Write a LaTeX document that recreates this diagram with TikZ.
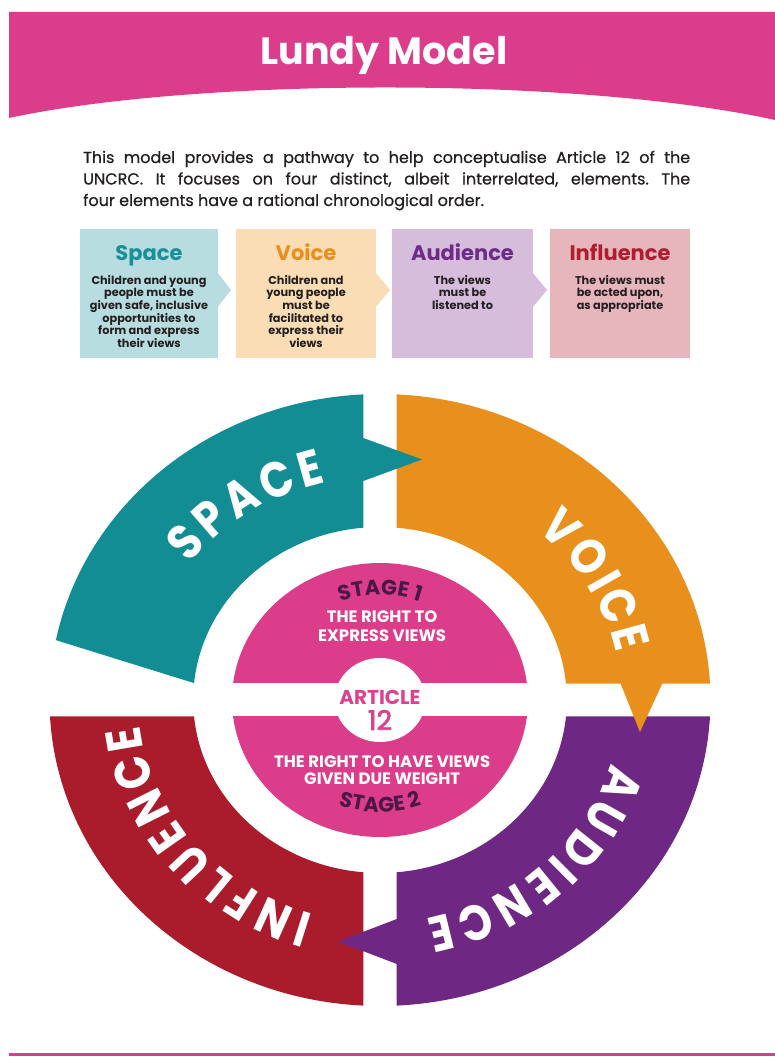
\documentclass[tikz,border=0pt]{standalone}
\usepackage{fontspec}
\setmainfont{Poppins}
\newfontface\titlefont{Poppins}[FakeBold=2.5]
\newfontface\introfont{Poppins}[FakeBold=0.6]
\usetikzlibrary{decorations.text}

\definecolor{hpink}{HTML}{DB3D8B}
\definecolor{cteal}{HTML}{138D94}
\definecolor{corange}{HTML}{E8901B}
\definecolor{cpurple}{HTML}{6E2883}
\definecolor{cred}{HTML}{AA1B2C}
\definecolor{plum}{HTML}{4A1747}
\definecolor{artpink}{HTML}{D9438E}
\definecolor{boxteal}{HTML}{B8DDE1}
\definecolor{boxorange}{HTML}{FADCB5}
\definecolor{boxpurple}{HTML}{D6BDDC}
\definecolor{boxred}{HTML}{E7B6BC}
\definecolor{tteal}{HTML}{1A8F97}
\definecolor{torange}{HTML}{E8901B}
\definecolor{tpurple}{HTML}{6F2B88}
\definecolor{tred}{HTML}{AE1D30}
\definecolor{inktext}{HTML}{231F20}

\newcommand\stagefont{\fontsize{21}{21}\selectfont\bfseries}

\tikzset{
  intro/.style={text=inktext, font=\introfont\fontsize{16}{19}\selectfont\frenchspacing,
    inner sep=0pt, anchor=base west},
  infobox/.style={minimum width=#1, minimum height=129pt, inner sep=0pt, draw=none},
  boxtitle/.style={font=\fontsize{21}{21}\selectfont\bfseries, inner sep=0pt, anchor=base},
  boxbody/.style={font=\fontsize{11.3}{12.6}\selectfont\bfseries, text=inktext, inner sep=0pt,
    align=center, anchor=north},
  ringletter/.style={text=white, font=\fontsize{50}{50}\selectfont\bfseries, inner sep=0pt, anchor=center},
  stagetext/.style={text=white, font=\fontsize{16.5}{16.5}\selectfont\bfseries, inner sep=0pt},
}

\begin{document}
\begin{tikzpicture}[x=1pt,y=1pt]
\useasboundingbox (0,0) rectangle (775,1057);
\fill[white] (0,0) rectangle (775,1057);

% header band with curved lower edge
\fill[hpink] (9,1045) -- (775,1045) -- (775,937)
  .. controls (580,980) and (200,980) .. (9,939) -- cycle;
\node[text=white, font=\fontsize{38}{38}\selectfont\bfseries, inner sep=0pt, anchor=base]
  (title) at (384,992) {Lundy Model};

% introduction
\node[intro] (intro1) at (83,894)
  {\makebox[607pt][s]{This model provides a pathway to help conceptualise Article 12 of the}};
\node[intro] (intro2) at (83,872.5)
  {\makebox[607pt][s]{UNCRC. It focuses on four distinct, albeit interrelated, elements. The}};
\node[intro] (intro3) at (83,851) {four elements have a rational chronological order.};

% four element boxes with pointers
\fill[boxteal] (217,785) -- (231,767) -- (217,749) -- cycle;
\fill[boxorange] (375,785) -- (390,767) -- (375,749) -- cycle;
\fill[boxpurple] (532,785) -- (547,767) -- (532,749) -- cycle;
\node[infobox=138pt, fill=boxteal] (spacebox) at (149,763.5) {};
\node[infobox=140pt, fill=boxorange] (voicebox) at (306,763.5) {};
\node[infobox=141pt, fill=boxpurple] (audbox) at (462.5,763.5) {};
\node[infobox=140pt, fill=boxred] (inflbox) at (620,763.5) {};

\node[boxtitle, text=tteal] (spacettl) at (149,796) {Space};
\node[boxtitle, text=torange] (voicettl) at (306,796) {Voice};
\node[boxtitle, text=tpurple] (audttl) at (462.5,796) {Audience};
\node[boxtitle, text=tred] (inflttl) at (620,796) {Influence};

\node[boxbody] (spacetxt) at (149,782)
  {Children and young\\people must be\\given safe, inclusive\\opportunities to\\form and express\\their views};
\node[boxbody] (voicetxt) at (306,782)
  {Children and\\young people\\must be\\facilitated to\\express their\\views};
\node[boxbody] (audtxt) at (462.5,782) {The views\\must be\\listened to};
\node[boxbody] (infltxt) at (620,782) {The views must\\be acted upon,\\as appropriate};

% ring of four elements around the two stages
\begin{scope}[shift={(380,357)}, xscale=1.08]
  % influence
  \fill[cred] (183.09:306) arc[start angle=183.09, end angle=267.13, radius=306]
    -- (264.93:173) arc[start angle=264.93, end angle=185.47, radius=173] -- cycle;
  % audience
  \fill[cpurple] (272.87:306) arc[start angle=272.87, end angle=356.91, radius=306]
    -- (354.53:173) arc[start angle=354.53, end angle=275.07, radius=173] -- cycle;
  \fill[cpurple] (18,-218) -- (-38.9,-241.5) -- (18,-265) -- cycle;
  % voice
  \fill[corange] (87.13:306) arc[start angle=87.13, end angle=3.09, radius=306]
    -- (5.47:173) arc[start angle=5.47, end angle=84.93, radius=173] -- cycle;
  \fill[corange] (222.2,18) -- (240.7,-32) -- (262,18) -- cycle;
  % space
  \fill[cteal] (92.87:306) arc[start angle=92.87, end angle=168.72, radius=306]
    -- (174.39:173) arc[start angle=174.39, end angle=95.07, radius=173] -- cycle;
  \fill[cteal] (-18,263) -- (38.9,240.5) -- (-18,218) -- cycle;

  % ring labels, letter by letter along the ring
  \foreach \ang/\ch [count=\k] in {138.8/S,130.93/P,122.49/A,113.63/C,105.6/E}
    \node[ringletter, rotate={\ang-90}, xscale=0.86] (space\k) at (\ang:240) {\ch};
  \foreach \ang/\ch [count=\k] in {45.72/V,36.55/O,29.67/I,23.21/C,15.18/E}
    \node[ringletter, rotate={\ang-90}, xscale=0.86] (voice\k) at (\ang:240) {\ch};
  \foreach \ang/\ch [count=\k] in {-20.74/A,-29.65/U,-38.56/D,-45.12/I,-50.85/E,-59.18/N,-68.24/C,-76.26/E}
    \node[ringletter, rotate={\ang-90}, xscale=0.86] (aud\k) at (\ang:240) {\ch};
  \foreach \ang/\ch [count=\k] in {252.46/I,245.69/N,237.51/F,230.79/L,223.13/U,215.05/E,206.72/N,197.66/C,189.64/E}
    \node[ringletter, rotate={\ang-90}, xscale=0.86] (infl\k) at (\ang:240) {\ch};

  % centre disc with the two stages
  \fill[hpink] (0,0) circle[radius=137];
  \fill[white] (-140,-16.5) rectangle (140,16.5);
  \fill[white] (0,0) circle[radius=42];

  \path[decorate, decoration={text along path, text={|\stagefont|STAGE 1},
    text align=center, text color=plum}]
    (150:105) arc[start angle=150, end angle=30, radius=105];
  \path[decorate, decoration={text along path, text={|\stagefont|STAGE 2},
    text align=center, text color=plum}]
    (210:112) arc[start angle=210, end angle=330, radius=112];

  \node[stagetext] (s1a) at (2,83) {THE RIGHT TO};
  \node[stagetext] (s1b) at (2,64.5) {EXPRESS VIEWS};
  \node[stagetext] (s2a) at (2,-62) {THE RIGHT TO HAVE VIEWS};
  \node[stagetext] (s2b) at (2,-79) {GIVEN DUE WEIGHT};
  \node[text=artpink, font=\fontsize{20}{20}\selectfont\bfseries, inner sep=0pt] (art) at (0,2.5) {ARTICLE};
  \node[text=artpink, font=\titlefont\fontsize{27}{27}\selectfont, inner sep=0pt] (artnum) at (0,-20) {12};
\end{scope}

% rule along the foot of the page
\fill[hpink] (9,0.5) rectangle (775,3.5);
\end{tikzpicture}
\end{document}
